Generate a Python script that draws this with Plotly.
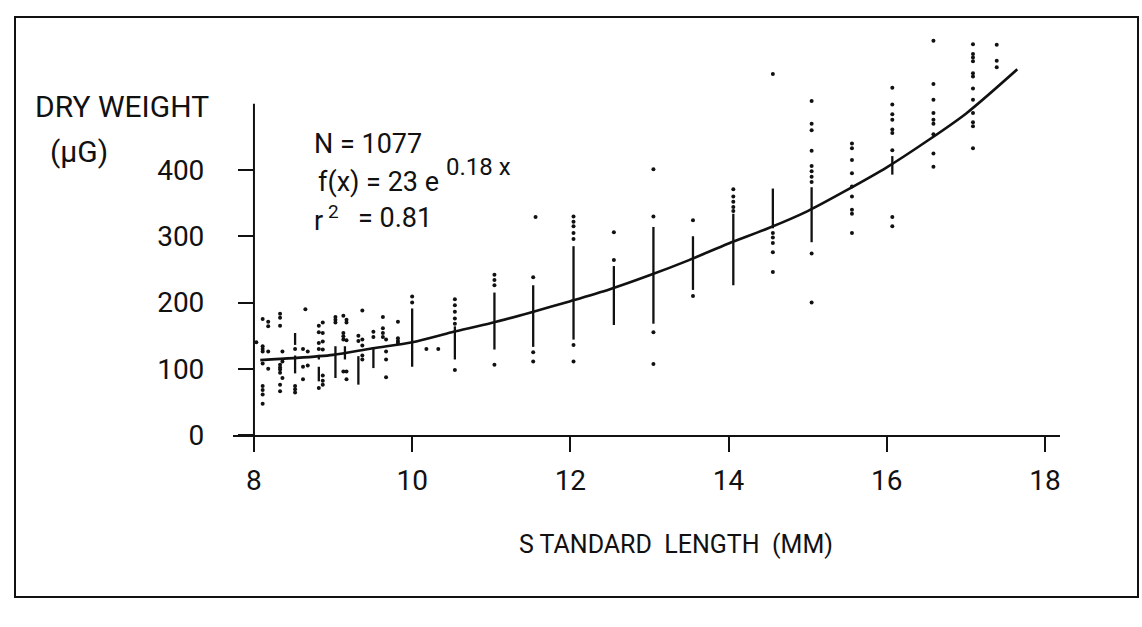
import plotly.graph_objects as go

# Standard length (mm) of each sampled column of larvae and the dry weights (µg) found there
col_length = [8.03, 8.11, 8.18, 8.33, 8.36, 8.52, 8.62, 8.65, 8.68, 8.82, 8.87, 9.03, 9.13,
              9.17, 9.32, 9.37, 9.51, 9.63, 9.67, 9.82, 10.0, 10.18, 10.33, 10.54, 11.04,
              11.53, 11.56, 12.04, 12.55, 13.05, 13.55, 14.06, 14.56, 15.05, 15.56, 16.07,
              16.59, 17.09, 17.39]
col_weights = [
    [140],
    [175, 134, 130, 126, 108, 74, 68, 61, 47],
    [171, 164, 126, 100],
    [183, 177, 165, 106, 102, 99, 94, 76, 66],
    [126, 111, 86],
    [130, 74, 69, 64],
    [130, 103, 84],
    [190],
    [126, 105],
    [165, 155, 139, 130, 71],
    [170, 154, 141, 129, 90, 82, 76],
    [178, 174, 170],
    [180, 154, 149, 144, 96],
    [174, 170, 143, 96, 84],
    [150, 142],
    [188, 144, 135, 120, 114],
    [156, 148],
    [178, 161, 154, 148],
    [144, 126, 114, 87],
    [171, 146, 142, 139],
    [209, 200],
    [130],
    [130],
    [205, 196, 186, 176, 168, 98],
    [242, 234, 226, 106],
    [238, 125, 111],
    [329],
    [330, 322, 315, 305, 296, 136, 111],
    [306, 264],
    [401, 330, 155, 107],
    [324, 210],
    [371, 360, 352, 344, 338],
    [545, 305, 298, 290, 276, 246],
    [504, 470, 460, 429, 406, 398, 390, 382, 274, 200],
    [440, 433, 415, 395, 375, 360, 340, 334, 305],
    [524, 499, 484, 476, 461, 456, 430, 329, 315],
    [595, 530, 506, 486, 476, 470, 454, 425, 405],
    [590, 575, 570, 564, 546, 541, 523, 506, 486, 472, 466, 433],
    [589, 565, 555],
]

# Runs of overlapping points that print as solid strokes
run_length = [8.52, 8.52, 8.82, 8.82, 9.03, 9.15, 9.32, 9.51, 10.0, 10.54, 11.04, 11.53,
              12.04, 12.55, 13.05, 13.55, 14.06, 14.56, 15.05, 16.07]
run_low = [93, 136, 114, 81, 86, 114, 76, 101, 103, 114, 129, 133, 144, 166, 168, 219, 226,
           312, 291, 393]
run_high = [120, 154, 121, 103, 134, 134, 119, 131, 191, 164, 215, 226, 285, 255, 314, 300,
            334, 372, 374, 421]

# Fitted growth curve
fit_length = [8.08, 8.5, 9.0, 9.5, 10.0, 10.5, 11.0, 11.5, 12.0, 12.5, 13.0, 13.5, 14.0,
              14.5, 15.0, 15.5, 16.0, 16.5, 17.0, 17.65]
fit_weight = [113, 116, 121, 131, 140, 155, 169, 185, 202, 220, 241, 264, 289, 312, 338,
              370, 404, 443, 485, 552]

x_ticks = [8, 10, 12, 14, 16, 18]
y_ticks = [0, 100, 200, 300, 400]

INK = "#111111"
FONT = "Roboto, Liberation Sans, sans-serif"

W, H = 1142, 627
L, R, T, B = 233, 82, 11, 192
X_RANGE = [7.735, 18.19]
Y_RANGE = [0, 640]


def fx(px):
    return (px - L) / (W - L - R)


def fy(py):
    return (H - B - py) / (H - T - B)


dot_x, dot_y = [], []
for x, ws in zip(col_length, col_weights):
    for w in ws:
        dot_x.append(x)
        dot_y.append(w)

run_x, run_y = [], []
for x, lo, hi in zip(run_length, run_low, run_high):
    run_x += [x, x, None]
    run_y += [lo, hi, None]

fig = go.Figure()
fig.add_trace(go.Scatter(x=run_x, y=run_y, mode="lines",
                         line=dict(color=INK, width=2.3), hoverinfo="skip"))
fig.add_trace(go.Scatter(x=dot_x, y=dot_y, mode="markers", cliponaxis=False,
                         marker=dict(color=INK, size=4, line=dict(width=0))))
fig.add_trace(go.Scatter(x=fit_length, y=fit_weight, mode="lines",
                         line=dict(color=INK, width=2.6, shape="spline", smoothing=0.8)))

fig.update_layout(
    width=W, height=H,
    margin=dict(l=L, r=R, t=T, b=B),
    paper_bgcolor="white", plot_bgcolor="white",
    showlegend=False,
    font=dict(family=FONT, color=INK, size=28),
    xaxis=dict(range=X_RANGE, showgrid=False, zeroline=False,
               showline=True, linecolor=INK, linewidth=2,
               ticks="outside", ticklen=15, tickwidth=2, tickcolor=INK,
               tickvals=x_ticks, ticktext=[str(v) for v in x_ticks],
               ticklabelstandoff=4, tickfont=dict(size=28)),
    yaxis=dict(range=Y_RANGE, showgrid=False, zeroline=False, showline=False,
               anchor="free", position=(8 - X_RANGE[0]) / (X_RANGE[1] - X_RANGE[0]),
               side="left",
               ticks="outside", ticklen=16, tickwidth=2, tickcolor=INK,
               tickvals=y_ticks, ticktext=[str(v) for v in y_ticks],
               ticklabelstandoff=28, tickfont=dict(size=28)),
)

# Vertical axis line at 8 mm, running up to 500 µg
fig.add_shape(type="line", xref="x", yref="y", x0=8, x1=8, y0=0, y1=500,
              line=dict(color=INK, width=2))

# Outer frame
fig.add_shape(type="rect", xref="paper", yref="paper",
              x0=fx(15), x1=fx(1138), y0=fy(597), y1=fy(17),
              line=dict(color=INK, width=2), fillcolor="rgba(0,0,0,0)")


def label(text, px, py, size=27, xanchor="left"):
    fig.add_annotation(text=text, xref="paper", yref="paper", x=fx(px), y=fy(py),
                       xanchor=xanchor, yanchor="middle", showarrow=False,
                       font=dict(size=size, family=FONT, color=INK))


label("DRY WEIGHT", 33, 107, size=30)
label("(µG)", 48, 151, size=30)
label("N = 1077", 312, 144)
label("f(x) = 23 e", 316, 182)
label("0.18 x", 444, 167, size=24)
label("r", 312, 221)
label("2", 326, 211, size=19)
label("= 0.81", 356, 218)
label("S TANDARD  LENGTH  (MM)", 676, 544, size=25, xanchor="center")

fig.write_html("out.html")
